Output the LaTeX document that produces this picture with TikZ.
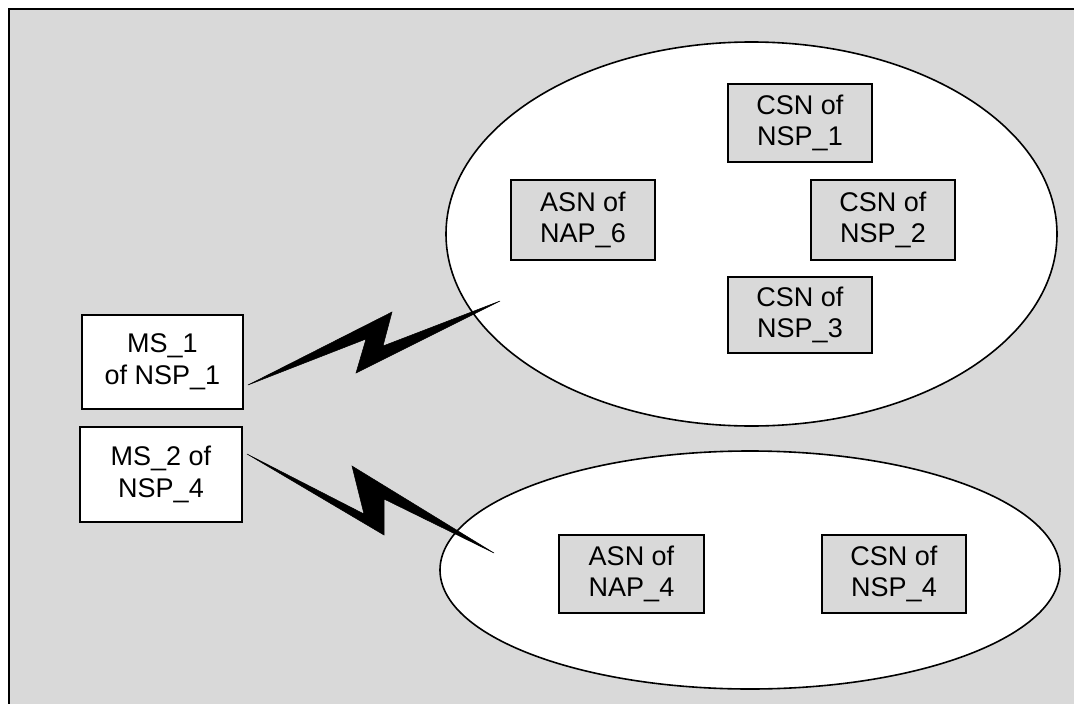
\documentclass[tikz,border=0pt]{standalone}
\usepackage{fontspec}
\usetikzlibrary{shapes.geometric}
\setmainfont{Liberation Sans}
\definecolor{bg}{RGB}{217,217,217}
\begin{document}
\begin{tikzpicture}[x=1pt,y=-1pt,
  cloud/.style={draw=black,fill=white,line width=1.6pt,ellipse,inner sep=0pt,outer sep=0pt},
  netbox/.style={draw=black,fill=bg,line width=1.6pt,rectangle,inner sep=0pt,align=center,font=\fontsize{27}{31.5}\selectfont,minimum width=144pt,execute at begin node={\rule{0pt}{22pt}}},
  msbox/.style={draw=black,fill=white,line width=1.6pt,rectangle,inner sep=0pt,align=center,font=\fontsize{27}{31.5}\selectfont,minimum width=161pt,minimum height=94pt,execute at begin node={\rule{0pt}{22pt}}},
  bolt/.style={fill=black,draw=black,line width=0.5pt,line join=miter}]
\useasboundingbox (0,0) rectangle (1074,704);
\fill[bg] (9,9) rectangle (1074,704);
\draw[line width=1.8pt] (9,704) -- (9,9) -- (1074,9);
\node[cloud,minimum width=611pt,minimum height=384pt] (upper) at (751.5,234) {};
\node[cloud,minimum width=620pt,minimum height=238pt] (lower) at (750,570) {};
\node[netbox,minimum height=78pt] (csn1) at (800,123) {CSN of\\NSP\_1};
\node[netbox,minimum height=80pt] (asn6) at (583,220) {ASN of\\NAP\_6};
\node[netbox,minimum height=80pt] (csn2) at (883,220) {CSN of\\NSP\_2};
\node[netbox,minimum height=76pt] (csn3) at (800,315) {CSN of\\NSP\_3};
\node[netbox,minimum width=145pt,minimum height=78pt] (asn4) at (631.5,574) {ASN of\\NAP\_4};
\node[netbox,minimum height=78pt] (csn4) at (894,574) {CSN of\\NSP\_4};
\node[msbox] (ms1) at (162.5,362) {MS\_1\\of NSP\_1};
\node[msbox,minimum width=162pt,minimum height=95pt] (ms2) at (161,474.5) {MS\_2 of\\NSP\_4};
\fill[bolt] (248,385) -- (392,312) -- (383,346) -- (500,301) -- (356,373) -- (366,339) -- cycle;
\fill[bolt] (247,454) -- (364,514) -- (352,466) -- (494,553) -- (384,499) -- (384,535) -- cycle;
\end{tikzpicture}
\end{document}
